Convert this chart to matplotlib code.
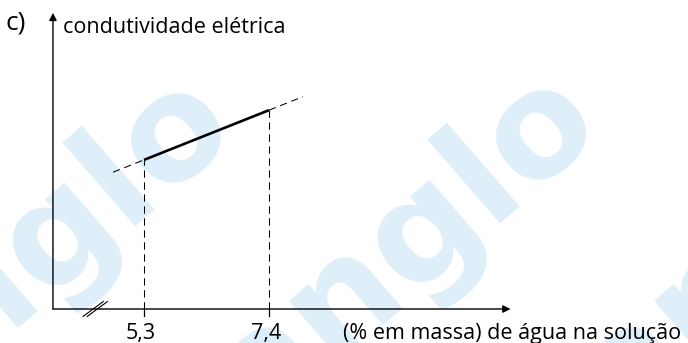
import numpy as np
import matplotlib as mpl
mpl.use('Agg')
import matplotlib.pyplot as plt

# data
agua = [5.3, 7.4]            # (% em massa) de água na solução
condutividade = [3.0, 4.0]   # arbitrary units
ext_left = [4.78, 5.3]
ext_right = [7.4, 7.97]
tick_labels = ['5,3', '7,4']
y_label = 'condutividade elétrica'
x_label = '(% em massa) de água na solução'
mark = 'anglo'

W, H = 688, 343
px_x = 59.5    # pixels per x unit
px_y = 49.7    # pixels per y unit
x_org = 3.77   # where the axes cross (break in x)
y_org = 0.0
x_end = 11.46
y_top = 5.96

fig = plt.figure(figsize=(W / 100, H / 100), dpi=100)
ax = fig.add_axes([0, 0, 1, 1])
x0 = 5.3 - 144 / px_x
y0 = -(H - 309) / px_y
ax.set_xlim(x0, x0 + W / px_x)
ax.set_ylim(y0, y0 + H / px_y)
ax.axis('off')

font = 'Open Sans'
wm = '#dfeffa'

# watermark (behind everything)
for (wx, wy) in [(40, 252), (405, 249), (770, 249)]:
    fig.text(wx / W, 1 - wy / H, mark, fontsize=106, fontweight='bold', color=wm,
             rotation=41, ha='center', va='center', family='DejaVu Sans',
             zorder=-1, rotation_mode='anchor')

# axes with arrows
arrow = dict(arrowstyle='-|>', color='black', lw=1.0, mutation_scale=11,
             shrinkA=0, shrinkB=0)
ax.annotate('', xy=(x_end, y_org), xytext=(x_org, y_org), arrowprops=arrow)
ax.annotate('', xy=(x_org, y_top), xytext=(x_org, y_org), arrowprops=arrow)

# axis break
bx = 4.48
for dx in [-0.035, 0.035]:
    ax.plot([bx + dx - 0.17, bx + dx + 0.17], [-0.15, 0.15], color='black', lw=0.8)

# line and dashed guides
dash = (0, (7, 4.5))
ax.plot(agua, condutividade, color='black', lw=1.9, solid_capstyle='butt')
slope = (condutividade[1] - condutividade[0]) / (agua[1] - agua[0])
ax.plot(ext_left, [condutividade[0] - slope * (agua[0] - ext_left[0]), condutividade[0]],
        color='black', lw=0.75, ls=dash)
ax.plot(ext_right, [condutividade[1], condutividade[1] + slope * (ext_right[1] - agua[1])],
        color='black', lw=0.75, ls=dash)
for xv, yv, lab in zip(agua, condutividade, tick_labels):
    ax.plot([xv, xv], [y_org, yv], color='black', lw=0.75, ls=dash)
    ax.plot([xv, xv], [y_org - 0.14, y_org], color='black', lw=0.9)
    ax.text(xv - 0.05, y0 + (H - 339) / px_y, lab, ha='center', va='baseline',
            fontsize=15.5, family=font)

ax.text(x0 + 343 / px_x, y0 + (H - 339) / px_y, x_label, ha='left', va='baseline',
        fontsize=15.5, family=font)
ax.text(x0 + 63 / px_x, y0 + (H - 33) / px_y, y_label, ha='left', va='baseline',
        fontsize=15.5, family=font)
ax.text(x0 + 6 / px_x, y0 + (H - 30) / px_y, 'c)', ha='left', va='baseline',
        fontsize=19, family=font)

fig.savefig('out.png', dpi=100)
